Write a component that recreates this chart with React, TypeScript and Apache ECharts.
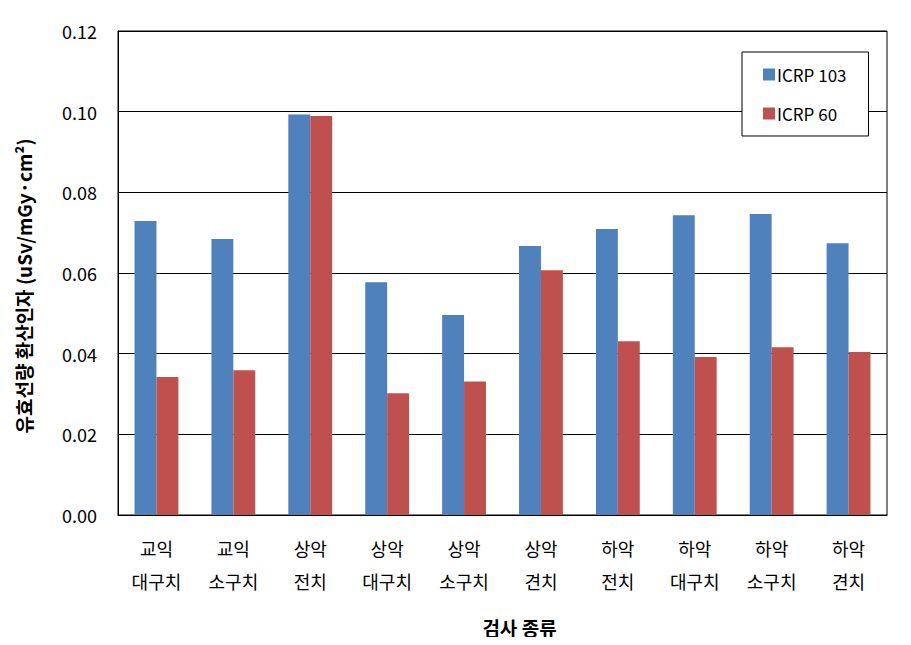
import React, { useEffect, useRef } from "react";
import * as echarts from "echarts";

const categories = [
  "교익\n대구치",
  "교익\n소구치",
  "상악\n전치",
  "상악\n대구치",
  "상악\n소구치",
  "상악\n견치",
  "하악\n전치",
  "하악\n대구치",
  "하악\n소구치",
  "하악\n견치",
];
const icrp103 = [0.0729, 0.0684, 0.0993, 0.0577, 0.0496, 0.0667, 0.0709, 0.0743, 0.0746, 0.0674];
const icrp60 = [0.0342, 0.0359, 0.0989, 0.0302, 0.0331, 0.0607, 0.0431, 0.0392, 0.0416, 0.0404];
const seriesNames = ["ICRP 103", "ICRP 60"];
const yTicks = { min: 0, max: 0.12, interval: 0.02 };
const yAxisTitle = "유효선량 환산인자 (uSv/mGy·cm²)";
const xAxisTitle = "검사 종류";

const FONT = "'Noto Sans CJK KR', 'Noto Sans', sans-serif";

export default function App() {
  const ref = useRef<HTMLDivElement>(null);
  useEffect(() => {
    if (!ref.current) return;
    const chart = echarts.init(ref.current, null, { renderer: "svg" });
    chart.setOption({
      animation: false,
      textStyle: { fontFamily: FONT },
      grid: {
        left: 118,
        right: 24,
        top: 31,
        bottom: 130,
        show: true,
        borderColor: "#000",
        borderWidth: 1,
      },
      legend: {
        orient: "vertical",
        left: 742,
        top: 52,
        padding: [14, 22, 14, 21],
        itemGap: 22,
        itemWidth: 12,
        itemHeight: 12,
        icon: "rect",
        borderColor: "#000",
        borderWidth: 1,
        backgroundColor: "#fff",
        textStyle: { fontSize: 17, color: "#000", fontFamily: FONT, padding: [0, 0, 0, -3] },
        data: seriesNames,
      },
      graphic: [
        {
          type: "text",
          x: 23,
          y: 286,
          rotation: Math.PI / 2,
          style: {
            text: yAxisTitle,
            fill: "#000",
            font: `bold 19px ${FONT}`,
            textAlign: "center",
            textVerticalAlign: "middle",
          },
        },
      ],
      xAxis: {
        type: "category",
        data: categories,
        axisLine: { lineStyle: { color: "#000", width: 1 } },
        axisTick: { inside: true, length: 6, lineStyle: { color: "#000" } },
        axisLabel: {
          color: "#000",
          fontSize: 18,
          lineHeight: 33,
          margin: 16,
          interval: 0,
          fontFamily: FONT,
        },
        name: xAxisTitle,
        nameLocation: "middle",
        nameGap: 103,
        nameTextStyle: {
          color: "#000",
          fontSize: 19,
          fontWeight: "bold",
          fontFamily: FONT,
          padding: [0, 0, 0, 34],
        },
      },
      yAxis: {
        type: "value",
        min: yTicks.min,
        max: yTicks.max,
        interval: yTicks.interval,
        axisLine: { show: true, lineStyle: { color: "#000" } },
        axisTick: { show: false },
        splitLine: { lineStyle: { color: "#000", width: 1 } },
        axisLabel: {
          color: "#000",
          fontSize: 18,
          margin: 21,
          fontFamily: FONT,
          formatter: (v: number) => v.toFixed(2),
        },
      },
      series: [
        {
          name: seriesNames[0],
          type: "bar",
          data: icrp103,
          itemStyle: { color: "#4F81BD" },
          barGap: "0%",
          barCategoryGap: "43%",
        },
        {
          name: seriesNames[1],
          type: "bar",
          data: icrp60,
          itemStyle: { color: "#C0504D" },
          barGap: "0%",
          barCategoryGap: "43%",
        },
      ],
    });
    return () => chart.dispose();
  }, []);
  return <div ref={ref} style={{ width: 911, height: 645, margin: -8 }} />;
}
